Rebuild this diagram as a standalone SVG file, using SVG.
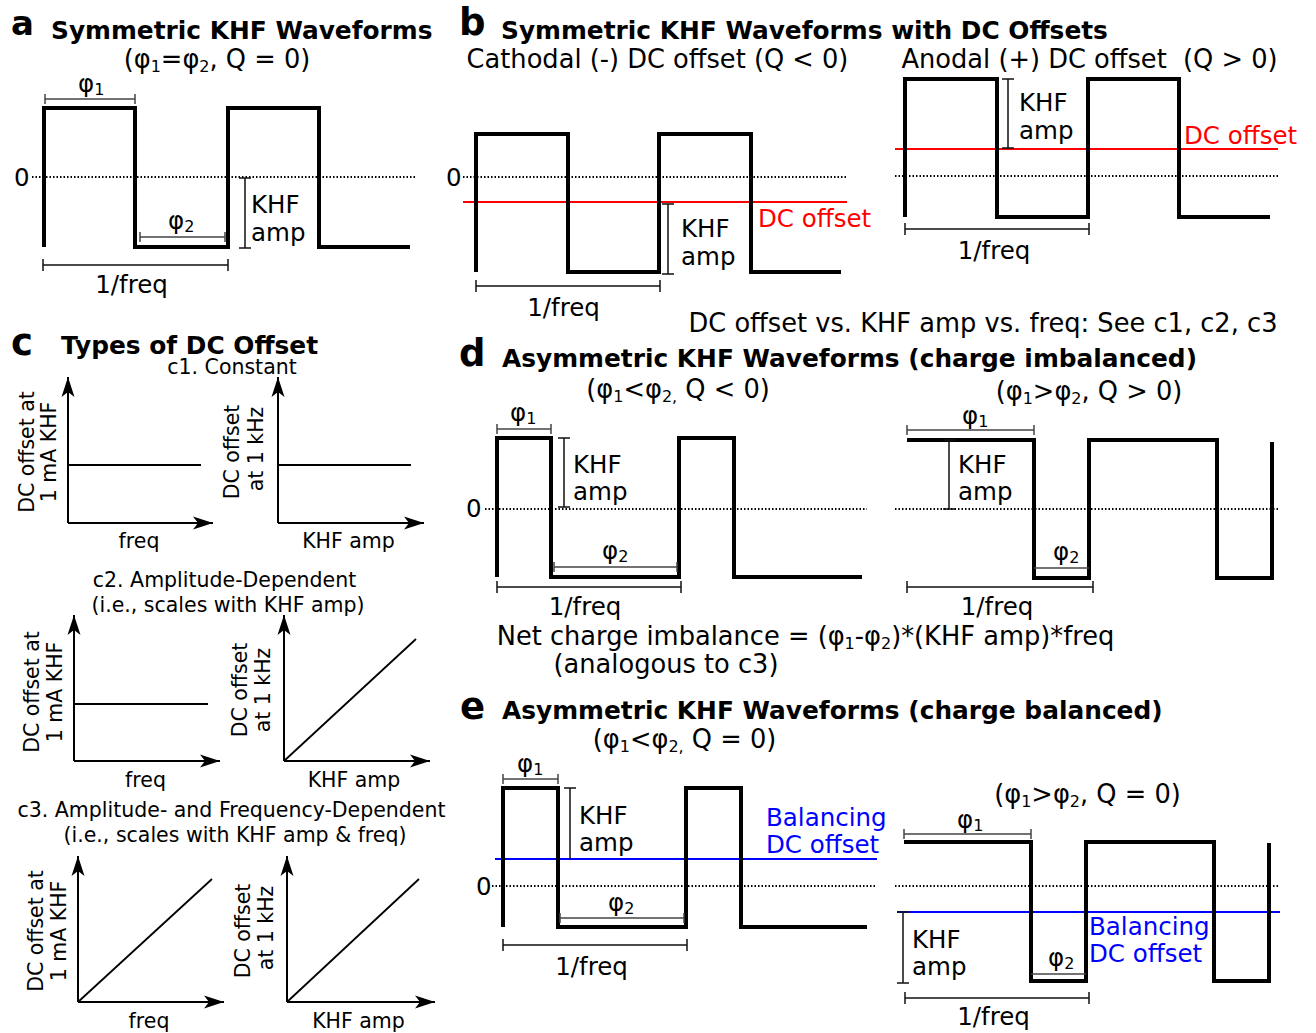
<svg xmlns="http://www.w3.org/2000/svg" width="1316" height="1033" viewBox="0 0 1316 1033">
<defs>
<style>
text{font-family:"DejaVu Sans",Verdana,sans-serif;fill:#000}
.L{font-weight:bold;font-size:37px}
.T{font-weight:bold;font-size:24.85px}
.s{font-size:25.7px}
.l{font-size:24.5px}
.c{font-size:20.5px}
.m{text-anchor:middle}
.sub{font-size:16px}
.w{fill:none;stroke:#000;stroke-width:4;stroke-linejoin:miter}
.z{fill:none;stroke:#000;stroke-width:2;stroke-dasharray:1.5 2}
.g{fill:none;stroke:#444;stroke-width:1.5}
.k{fill:none;stroke:#111;stroke-width:1.5}
.r{fill:none;stroke:#f00;stroke-width:2}
.b{fill:none;stroke:#00f;stroke-width:2}
.red{fill:#f00}
.blu{fill:#00f}
.ax{fill:none;stroke:#000;stroke-width:2;marker-end:url(#ar)}
.ln{fill:none;stroke:#000;stroke-width:1.8}
</style>
<marker id="ar" markerUnits="userSpaceOnUse" markerWidth="22" markerHeight="16" viewBox="-21 -8 22 16" refX="0" refY="0" orient="auto">
<path d="M0,0 L-20,-6.5 L-15,0 L-20,6.5 Z" fill="#000"/>
</marker>
</defs>
<rect width="1316" height="1033" fill="#fff"/>

<g id="panel-a">
<text class="L" x="11" y="35" style="font-size:34px">a</text>
<text class="T" x="51" y="39">Symmetric KHF Waveforms</text>
<text class="s m" x="217" y="68">(φ<tspan class="sub" dy="4">1</tspan><tspan dy="-4">=φ</tspan><tspan class="sub" dy="4">2</tspan><tspan dy="-4">, Q = 0)</tspan></text>
<path class="z" d="M32,177 H415"/>
<path class="w" d="M44,247 V108 H135 V247 H228 V108 H319 V247 H410"/>
<text class="l" x="14" y="186">0</text>
<path class="g" d="M45,99 H135 M45,94 V104 M135,94 V104"/>
<text class="l" x="78" y="92">φ<tspan class="sub" dy="3">1</tspan></text>
<path class="g" d="M140,237 H225 M140,232 V242 M225,232 V242"/>
<text class="l" x="168" y="229">φ<tspan class="sub" dy="3">2</tspan></text>
<path class="k" d="M245,178 V248 M239,178 H251 M239,248 H251"/>
<text class="l" x="251" y="213">KHF</text>
<text class="l" x="251" y="241">amp</text>
<path class="k" d="M43,265 H228 M43,259 V271 M228,259 V271"/>
<text class="l m" x="131.5" y="293">1/freq</text>
</g>

<g id="panel-b">
<text class="L" x="459" y="35">b</text>
<text class="T" x="501" y="39">Symmetric KHF Waveforms with DC Offsets</text>
<text class="s m" x="657.5" y="68">Cathodal (-) DC offset (Q &lt; 0)</text>
<text class="s m" x="1089.5" y="68" xml:space="preserve">Anodal (+) DC offset  (Q &gt; 0)</text>
<path class="z" d="M463,177 H847"/>
<path class="r" d="M463,202 H847"/>
<path class="w" d="M476,272 V134 H568 V272 H659 V134 H751 V272 H841"/>
<text class="l" x="446" y="186">0</text>
<path class="k" d="M668,204 V274 M662,204 H674 M662,274 H674"/>
<text class="l" x="681" y="237">KHF</text>
<text class="l" x="681" y="265">amp</text>
<text class="l red" x="758" y="227">DC offset</text>
<path class="k" d="M476,286 H660 M476,280 V292 M660,280 V292"/>
<text class="l m" x="563.5" y="316">1/freq</text>
<path class="z" d="M895,176 H1278"/>
<path class="r" d="M895,149 H1278"/>
<path class="w" d="M905,217 V79 H997 V217 H1088 V79 H1179 V217 H1270"/>
<path class="k" d="M1008,79 V148 M1002,79 H1014 M1002,148 H1014"/>
<text class="l" x="1019" y="111">KHF</text>
<text class="l" x="1019" y="139">amp</text>
<text class="l red" x="1184" y="144">DC offset</text>
<path class="k" d="M905,229 H1089 M905,223 V235 M1089,223 V235"/>
<text class="l m" x="994" y="259">1/freq</text>
<text class="s m" x="983" y="332">DC offset vs. KHF amp vs. freq: See c1, c2, c3</text>
</g>

<g id="panel-c">
<text class="L" x="11" y="355">c</text>
<text class="T" x="61" y="354">Types of DC Offset</text>
<text class="c m" x="232" y="374">c1. Constant</text>
<path class="ax" d="M68,523 V377"/>
<path class="ax" d="M68,523 H213"/>
<path class="ln" d="M68,465 H201"/>
<text class="c m" transform="translate(34,452) rotate(-90)">DC offset at</text>
<text class="c m" transform="translate(56,452) rotate(-90)">1 mA KHF</text>
<text class="c m" x="139" y="548">freq</text>
<path class="ax" d="M278,523 V377"/>
<path class="ax" d="M278,523 H424"/>
<path class="ln" d="M278,465 H411"/>
<text class="c m" transform="translate(239,452) rotate(-90)">DC offset</text>
<text class="c m" transform="translate(263,449) rotate(-90)">at 1 kHz</text>
<text class="c m" x="348.5" y="548">KHF amp</text>

<text class="c m" x="224.5" y="587">c2. Amplitude-Dependent</text>
<text class="c m" x="228" y="612">(i.e., scales with KHF amp)</text>
<path class="ax" d="M74,761 V615"/>
<path class="ax" d="M74,761 H220"/>
<path class="ln" d="M74,704 H208"/>
<text class="c m" transform="translate(39,692) rotate(-90)">DC offset at</text>
<text class="c m" transform="translate(62,692) rotate(-90)">1 mA KHF</text>
<text class="c m" x="145.5" y="787">freq</text>
<path class="ax" d="M284,761 V615"/>
<path class="ax" d="M284,761 H430"/>
<path class="ln" d="M284,761 L416,639"/>
<text class="c m" transform="translate(247,690) rotate(-90)">DC offset</text>
<text class="c m" transform="translate(270,690) rotate(-90)">at 1 kHz</text>
<text class="c m" x="354" y="787">KHF amp</text>

<text class="c m" x="231.5" y="817">c3. Amplitude- and Frequency-Dependent</text>
<text class="c m" x="235" y="842">(i.e., scales with KHF amp &amp; freq)</text>
<path class="ax" d="M78,1002 V856"/>
<path class="ax" d="M78,1002 H224"/>
<path class="ln" d="M78,1002 L212,879"/>
<text class="c m" transform="translate(43,931) rotate(-90)">DC offset at</text>
<text class="c m" transform="translate(66,931) rotate(-90)">1 mA KHF</text>
<text class="c m" x="149" y="1028">freq</text>
<path class="ax" d="M287,1002 V856"/>
<path class="ax" d="M287,1002 H435"/>
<path class="ln" d="M287,1002 L419,879"/>
<text class="c m" transform="translate(250,931) rotate(-90)">DC offset</text>
<text class="c m" transform="translate(273,928) rotate(-90)">at 1 kHz</text>
<text class="c m" x="358.5" y="1028">KHF amp</text>
</g>

<g id="panel-d">
<text class="L" x="459" y="366">d</text>
<text class="T" x="502" y="367">Asymmetric KHF Waveforms (charge imbalanced)</text>
<text class="s m" x="678" y="398">(φ<tspan class="sub" dy="4">1</tspan><tspan dy="-4">&lt;φ</tspan><tspan class="sub" dy="4">2,</tspan><tspan dy="-4"> Q &lt; 0)</tspan></text>
<text class="s m" x="1089" y="400">(φ<tspan class="sub" dy="4">1</tspan><tspan dy="-4">&gt;φ</tspan><tspan class="sub" dy="4">2</tspan><tspan dy="-4">, Q &gt; 0)</tspan></text>
<path class="z" d="M485,509 H867"/>
<path class="w" d="M497,577 V438 H551 V577 H679 V438 H734 V577 H862"/>
<text class="l" x="466" y="517">0</text>
<path class="g" d="M497,429 H551 M497,424 V434 M551,424 V434"/>
<text class="l" x="510" y="421">φ<tspan class="sub" dy="3">1</tspan></text>
<path class="k" d="M564,438 V507 M558,438 H570 M558,507 H570"/>
<text class="l" x="573" y="473">KHF</text>
<text class="l" x="573" y="500">amp</text>
<path class="g" d="M554,567 H677 M554,562 V572 M677,562 V572"/>
<text class="l" x="602" y="559">φ<tspan class="sub" dy="3">2</tspan></text>
<path class="k" d="M497,587 H681 M497,581 V593 M681,581 V593"/>
<text class="l m" x="585" y="615">1/freq</text>
<path class="z" d="M895,509 H1278"/>
<path class="w" d="M907,440 H1034 V578 H1089 V440 H1217 V578 H1272 V442"/>
<path class="g" d="M907,430 H1034 M907,425 V435 M1034,425 V435"/>
<text class="l" x="962" y="424">φ<tspan class="sub" dy="3">1</tspan></text>
<path class="k" d="M949,440 V509 M943,440 H955 M943,509 H955"/>
<text class="l" x="958" y="473">KHF</text>
<text class="l" x="958" y="500">amp</text>
<path class="g" d="M1034,568 H1089"/>
<text class="l" x="1053" y="560">φ<tspan class="sub" dy="3">2</tspan></text>
<path class="k" d="M907,587 H1093 M907,581 V593 M1093,581 V593"/>
<text class="l m" x="997" y="615">1/freq</text>
<text class="s m" x="805.5" y="645">Net charge imbalance = (φ<tspan class="sub" dy="4">1</tspan><tspan dy="-4">-φ</tspan><tspan class="sub" dy="4">2</tspan><tspan dy="-4">)*(KHF amp)*freq</tspan></text>
<text class="s m" x="666" y="673">(analogous to c3)</text>
</g>

<g id="panel-e">
<text class="L" x="460" y="719">e</text>
<text class="T" x="502" y="719">Asymmetric KHF Waveforms (charge balanced)</text>
<text class="s m" x="684.5" y="748">(φ<tspan class="sub" dy="4">1</tspan><tspan dy="-4">&lt;φ</tspan><tspan class="sub" dy="4">2,</tspan><tspan dy="-4"> Q = 0)</tspan></text>
<text class="s m" x="1087.5" y="803">(φ<tspan class="sub" dy="4">1</tspan><tspan dy="-4">&gt;φ</tspan><tspan class="sub" dy="4">2</tspan><tspan dy="-4">, Q = 0)</tspan></text>
<path class="z" d="M492,886 H876"/>
<path class="b" d="M495,859 H877"/>
<path class="w" d="M503,927 V788 H558 V927 H686 V788 H741 V927 H867"/>
<text class="l" x="476" y="895">0</text>
<path class="g" d="M503,779 H558 M503,774 V784 M558,774 V784"/>
<text class="l" x="517" y="772">φ<tspan class="sub" dy="3">1</tspan></text>
<path class="k" d="M570,788 V859 M564,788 H576"/>
<text class="l" x="579" y="824">KHF</text>
<text class="l" x="579" y="851">amp</text>
<text class="l blu" x="766" y="826">Balancing</text>
<text class="l blu" x="766" y="853">DC offset</text>
<path class="g" d="M560,918 H684 M560,913 V923 M684,913 V923"/>
<text class="l" x="608" y="911">φ<tspan class="sub" dy="3">2</tspan></text>
<path class="k" d="M503,945 H687 M503,939 V951 M687,939 V951"/>
<text class="l m" x="591.5" y="975">1/freq</text>
<path class="z" d="M895,886 H1278"/>
<path class="b" d="M897,912 H1280"/>
<path class="w" d="M904,842 H1031 V981 H1086 V842 H1214 V981 H1269 V843"/>
<path class="g" d="M904,834 H1031 M904,829 V839 M1031,829 V839"/>
<text class="l" x="957" y="828">φ<tspan class="sub" dy="3">1</tspan></text>
<path class="k" d="M903,912 V983 M897,912 H909 M897,983 H909"/>
<text class="l" x="912" y="948">KHF</text>
<text class="l" x="912" y="975">amp</text>
<text class="l blu" x="1089" y="935">Balancing</text>
<text class="l blu" x="1089" y="962">DC offset</text>
<path class="g" d="M1031,974 H1086"/>
<text class="l" x="1048" y="966">φ<tspan class="sub" dy="3">2</tspan></text>
<path class="k" d="M905,998 H1089 M905,992 V1004 M1089,992 V1004"/>
<text class="l m" x="993.5" y="1025">1/freq</text>
</g>
</svg>
